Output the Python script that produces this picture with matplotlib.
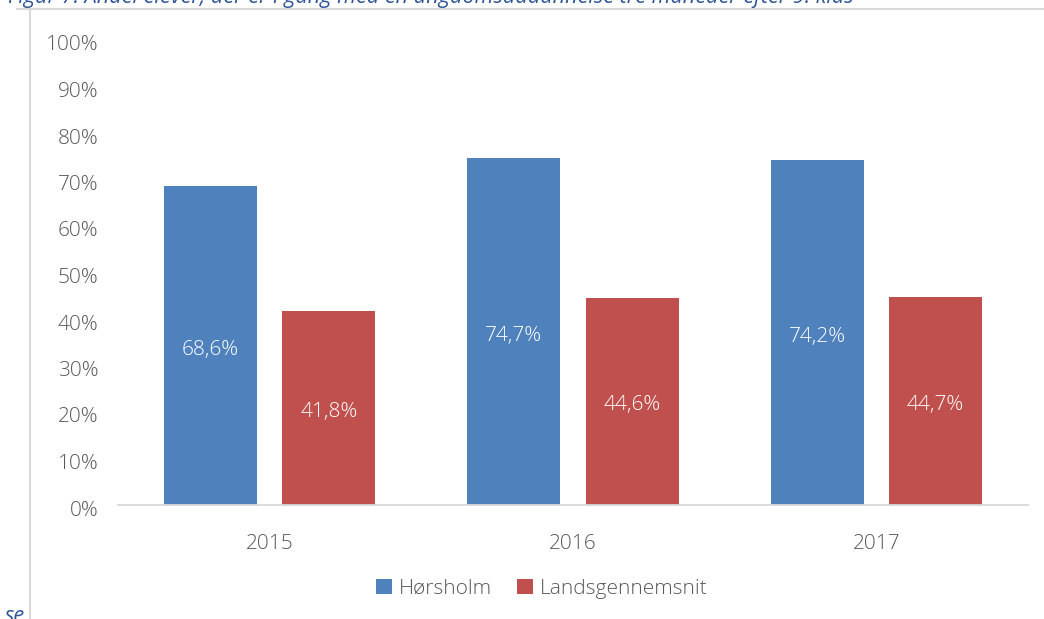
import matplotlib
matplotlib.use("Agg")
import matplotlib.pyplot as plt
import matplotlib.transforms as mtransforms
from matplotlib.lines import Line2D
import numpy as np

plt.rcParams['font.family'] = ['Open Sans', 'DejaVu Sans']

years = ["2015", "2016", "2017"]
horsholm = [68.6, 74.7, 74.2]
lands = [41.8, 44.6, 44.7]
series_names = ["Hørsholm", "Landsgennemsnit"]
yticks = [0, 10, 20, 30, 40, 50, 60, 70, 80, 90, 100]
title = "Figur 7: Andel elever, der er i gang med en ungdomsuddannelse tre måneder efter 9. klas"

BLUE = "#4F81BD"
RED = "#C0504D"
GRAY = "#595959"
FS = 15

W, H = 1044, 619
fig = plt.figure(figsize=(W / 100, H / 100), dpi=100)

# axes: x from 118 to 1028 px, y: 0% at 505, 100% at 40
left = 118 / W
right = 1028 / W
bottom = 1 - 505 / H
top = 1 - 40 / H
ax = fig.add_axes([left, bottom, right - left, top - bottom])

x = np.arange(len(years))
bw = 0.307
off = 0.195
b1 = ax.bar(x - off, horsholm, bw, color=BLUE, label=series_names[0])
b2 = ax.bar(x + off, lands, bw, color=RED, label=series_names[1])

def fmt(v):
    return f"{v:.1f}".replace(".", ",") + "%"

for bars, vals in ((b1, horsholm), (b2, lands)):
    for rect, v in zip(bars, vals):
        ax.text(rect.get_x() + rect.get_width() / 2, v / 2 - 0.9, fmt(v),
                ha="center", va="center", color="white", fontsize=FS, fontweight="light")

ax.set_xlim(-0.5, 2.5)
ax.set_ylim(0, 100)
ax.set_yticks(yticks)
ax.set_yticklabels([f"{t}%" for t in yticks])
ax.set_xticks(x)
ax.set_xticklabels(years)
ax.tick_params(axis="both", length=0, labelsize=FS, labelcolor=GRAY)
ax.tick_params(axis="y", pad=14)
ax.tick_params(axis="x", pad=21)
shift = mtransforms.ScaledTranslation(0, -3 / 100, fig.dpi_scale_trans)
for lab in ax.get_yticklabels():
    lab.set_fontweight("light")
    lab.set_transform(lab.get_transform() + shift)
for lab in ax.get_xticklabels():
    lab.set_fontweight("light")
for s in ("left", "right", "top"):
    ax.spines[s].set_visible(False)
ax.spines["bottom"].set_color("#D9D9D9")
ax.spines["bottom"].set_linewidth(1.3)

# chart frame lines (top and left)
fig.add_artist(Line2D([17 / W, 1], [1 - 8.5 / H, 1 - 8.5 / H], color="#D9D9D9", lw=1.5))
fig.add_artist(Line2D([29.5 / W, 29.5 / W], [0, 1 - 8.5 / H], color="#D9D9D9", lw=1.5))

# cut-off title at top (as in the reference)
fig.text(8 / W, 1 - 3 / H, title, ha="left", va="baseline", fontsize=15.6,
         style="italic", color="#2F5597")
# cut-off source text at bottom-left
fig.text(5 / W, 1 - 622 / H, "se", ha="left", va="baseline", fontsize=15.6,
         style="italic", color="#2F5597")

leg = fig.legend(handles=[b1, b2], loc="center", bbox_to_anchor=(542 / W, 1 - 589 / H),
                 ncol=2, frameon=False, handlelength=0.75, handleheight=0.75,
                 handletextpad=0.35, columnspacing=1.2, labelcolor=GRAY,
                 prop={"size": FS, "weight": "light"})

fig.savefig("out.png", dpi=100)
